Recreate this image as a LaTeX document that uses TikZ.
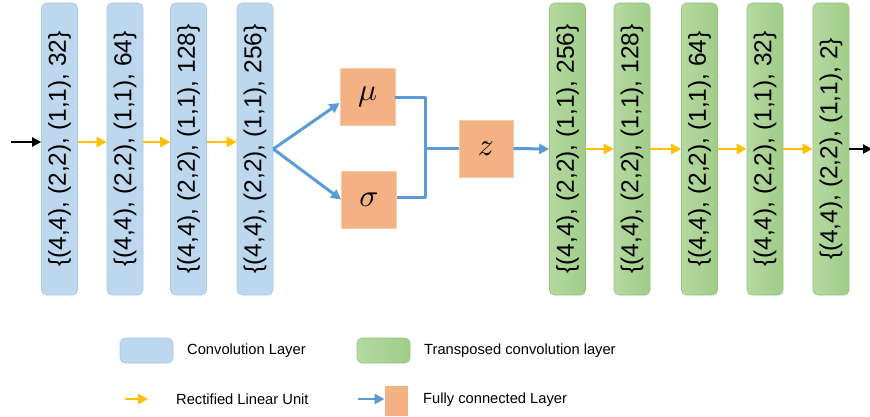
\documentclass[tikz,border=0pt]{standalone}
\usepackage{fontspec}
\setmainfont{Liberation Sans}
\usetikzlibrary{arrows.meta}
\definecolor{convfill}{HTML}{BDD7EE}
\definecolor{convdraw}{HTML}{A9C8E6}
\definecolor{tcL}{HTML}{B5D9A1}
\definecolor{tcR}{HTML}{A0CC88}
\definecolor{tcdraw}{HTML}{93C47D}
\definecolor{fcfill}{HTML}{F4B183}
\definecolor{fcdraw}{HTML}{F8CBAD}
\definecolor{reluc}{HTML}{FFC000}
\definecolor{fcline}{HTML}{5B9BD5}
\tikzset{
  convbox/.style={draw=convdraw, fill=convfill, rounded corners=5pt, minimum width=36pt, minimum height=292pt, inner sep=0pt, line width=0.6pt},
  tconvbox/.style={draw=tcdraw, left color=tcL, right color=tcR, rounded corners=5pt, minimum width=36pt, minimum height=292pt, inner sep=0pt, line width=0.6pt},
  boxtext/.style={rotate=90, inner sep=0pt, font=\fontsize{24.5}{26}\selectfont},
  fcbox/.style={draw=fcdraw, fill=fcfill, minimum width=55pt, minimum height=57pt, inner sep=0pt, line width=0.8pt},
  relu/.style={draw=reluc, line width=2.6pt, -{Triangle[length=10pt,width=10pt]}},
  fcarrow/.style={draw=fcline, line width=3pt, -{Triangle[length=10pt,width=10pt]}},
  fcplain/.style={draw=fcline, line width=3pt},
  blackarrow/.style={draw=black, line width=2.6pt, -{Triangle[length=9pt,width=9pt]}},
  legtext/.style={anchor=west, inner sep=0pt, font=\fontsize{14.7}{16}\selectfont},
}
\newcommand{\bigsym}[1]{\scalebox{3.15}{$#1$}}
\begin{document}
\begin{tikzpicture}[x=1pt,y=-1pt]
\useasboundingbox (0,0) rectangle (870,417);
% convolution layers
\node[convbox] (b1) at (59.5,149) {};
\node[convbox] (b2) at (125,149) {};
\node[convbox] (b3) at (188.5,149) {};
\node[convbox] (b4) at (255,149) {};
\node[boxtext] (t1) at (b1) {\{(4,4), (2,2), (1,1), 32\}};
\node[boxtext] (t2) at (b2) {\{(4,4), (2,2), (1,1), 64\}};
\node[boxtext] (t3) at (b3) {\{(4,4), (2,2), (1,1), 128\}};
\node[boxtext] (t4) at (b4) {\{(4,4), (2,2), (1,1), 256\}};
% transposed convolution layers
\node[tconvbox] (g1) at (567.5,149) {};
\node[tconvbox] (g2) at (632,149) {};
\node[tconvbox] (g3) at (699.5,149) {};
\node[tconvbox] (g4) at (765,149) {};
\node[tconvbox] (g5) at (831,149) {};
\node[boxtext] (u1) at (g1) {\{(4,4), (2,2), (1,1), 256\}};
\node[boxtext] (u2) at (g2) {\{(4,4), (2,2), (1,1), 128\}};
\node[boxtext] (u3) at (g3) {\{(4,4), (2,2), (1,1), 64\}};
\node[boxtext] (u4) at (g4) {\{(4,4), (2,2), (1,1), 32\}};
\node[boxtext] (u5) at (g5) {\{(4,4), (2,2), (1,1), 2\}};
% fully connected
\node[fcbox] (mu) at (367.5,96.5) {\bigsym{\mu}};
\node[fcbox] (sg) at (369,199.5) {\bigsym{\sigma}};
\node[fcbox, minimum width=54pt] (z) at (486,148.5) {\bigsym{z}};
\coordinate (j) at (425,148.5);
% input / output
\coordinate (in) at (11,142);
\coordinate (out) at (872,149);
\draw[blackarrow] (in) -- ([yshift=7pt]b1.west);
\draw[relu] ([yshift=7pt]b1.east) -- ([yshift=7pt]b2.west);
\draw[relu] ([yshift=7pt]b2.east) -- ([yshift=7pt]b3.west);
\draw[relu] ([yshift=7pt]b3.east) -- ([yshift=7pt]b4.west);
\draw[fcarrow] (b4.east) -- ([yshift=-6.5pt]mu.west);
\draw[fcarrow] (b4.east) -- (sg.west);
\draw[fcplain, line join=round] ([yshift=-1.5pt]mu.east) -| (j);
\draw[fcplain, line join=round] ([yshift=2pt]sg.east) -| (j);
\draw[fcplain] (j) -- (z.west);
\draw[fcarrow] (z.east) -- (g1.west);
\draw[relu] (g1.east) -- (g2.west);
\draw[relu] (g2.east) -- (g3.west);
\draw[relu] (g3.east) -- (g4.west);
\draw[relu] (g4.east) -- (g5.west);
\draw[blackarrow] (g5.east) -- (out);
% legend
\node[convbox, minimum width=53pt, minimum height=25pt] (lb) at (146.5,350.5) {};
\node[legtext] (lbt) at (187,351) {Convolution Layer};
\node[tconvbox, minimum width=53pt, minimum height=25pt] (lg) at (383.5,350.5) {};
\node[legtext] (lgt) at (424,351) {Transposed convolution layer};
\coordinate (ly1) at (125,399);
\coordinate (ly2) at (148,399);
\draw[relu, line width=2.4pt] (ly1) -- (ly2);
\node[legtext] (lyt) at (176,399.5) {Rectified Linear Unit};
\node[fcbox, minimum width=23pt, minimum height=30pt, draw=none] (lo) at (396.5,401) {};
\coordinate (lf1) at (358,399);
\draw[fcarrow, line width=2.6pt] (lf1) -- (lo.west |- lf1);
\node[legtext] (lot) at (423,399.5) {Fully connected Layer};
\end{tikzpicture}
\end{document}
